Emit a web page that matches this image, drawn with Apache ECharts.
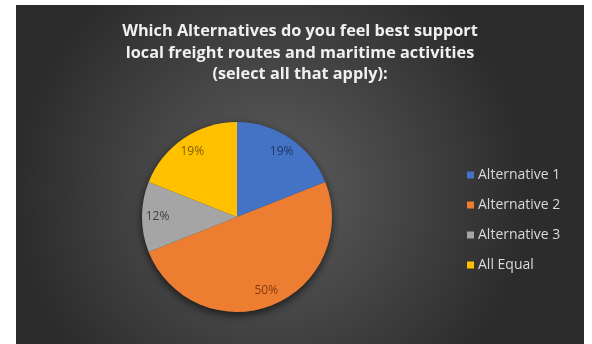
<!DOCTYPE html>
<html>
<head>
<meta charset="utf-8">
<script src="https://cdn.jsdelivr.net/npm/echarts@6/dist/echarts.min.js"></script>
<style>
  html, body { margin: 0; padding: 0; background: #fff; }
  #chart { position: absolute; left: 16px; top: 5px; width: 568px; height: 339px; }
</style>
</head>
<body>
<div id="chart"></div>
<script>
// data
const categories = ["Alternative 1", "Alternative 2", "Alternative 3", "All Equal"];
const shares = [19, 50, 12, 19];
const sliceColors = ["#4472c4", "#ed7d31", "#a5a5a5", "#ffc000"];
const labelColors = ["#1f3864", "#843c0c", "#404040", "#7f6000"];

const total = shares.reduce((a, b) => a + b, 0);

let chart = echarts.init(document.getElementById("chart"));
let option = {
  backgroundColor: new echarts.graphic.RadialGradient(0.45, 0.55, 0.75, [
    { offset: 0, color: "#5e5e5e" },
    { offset: 1, color: "#2c2c2c" }
  ]),
  title: {
    text: "Which Alternatives do you feel best support\nlocal freight routes and maritime activities\n(select all that apply):",
    left: "center",
    top: 11,
    textStyle: {
      color: "#f0f0f0",
      fontFamily: "Open Sans",
      fontWeight: "bold",
      fontSize: 16.3,
      lineHeight: 21.5
    }
  },
  legend: {
    orient: "vertical",
    left: 446,
    top: 157,
    itemWidth: 7,
    itemHeight: 7,
    itemGap: 14,
    icon: "rect",
    data: categories,
    textStyle: { color: "#d9d9d9", fontSize: 14, lineHeight: 16, fontFamily: "Open Sans", padding: [0, 0, 0, -1] }
  },
  series: [
    {
      // shadow under the whole disc
      type: "pie",
      center: [221, 212],
      radius: [0, 95],
      silent: true,
      label: { show: false },
      labelLine: { show: false },
      itemStyle: {
        color: "#3a3a3a",
        shadowBlur: 9,
        shadowOffsetY: 3,
        shadowColor: "rgba(0,0,0,0.65)"
      },
      data: [{ name: "total", value: total }]
    },
    {
      type: "pie",
      center: [221, 212],
      radius: [0, 95],
      startAngle: 90,
      clockwise: true,
      label: { show: false },
      labelLine: { show: false },
      data: categories.map((name, i) => ({
        name: name,
        value: shares[i],
        itemStyle: { color: sliceColors[i] }
      }))
    },
    {
      // transparent ring that carries the labels further out
      type: "pie",
      center: [221, 212],
      radius: [58, 95],
      startAngle: 90,
      clockwise: true,
      silent: true,
      label: {
        show: true,
        position: "inside",
        formatter: "{d}%",
        fontSize: 12,
        fontFamily: "Open Sans"
      },
      labelLine: { show: false },
      emphasis: { disabled: true },
      data: categories.map((name, i) => ({
        name: name,
        value: shares[i],
        itemStyle: { color: "rgba(0,0,0,0)" },
        label: { color: labelColors[i] }
      }))
    }
  ]
};
chart.setOption(option);
</script>
</body>
</html>
